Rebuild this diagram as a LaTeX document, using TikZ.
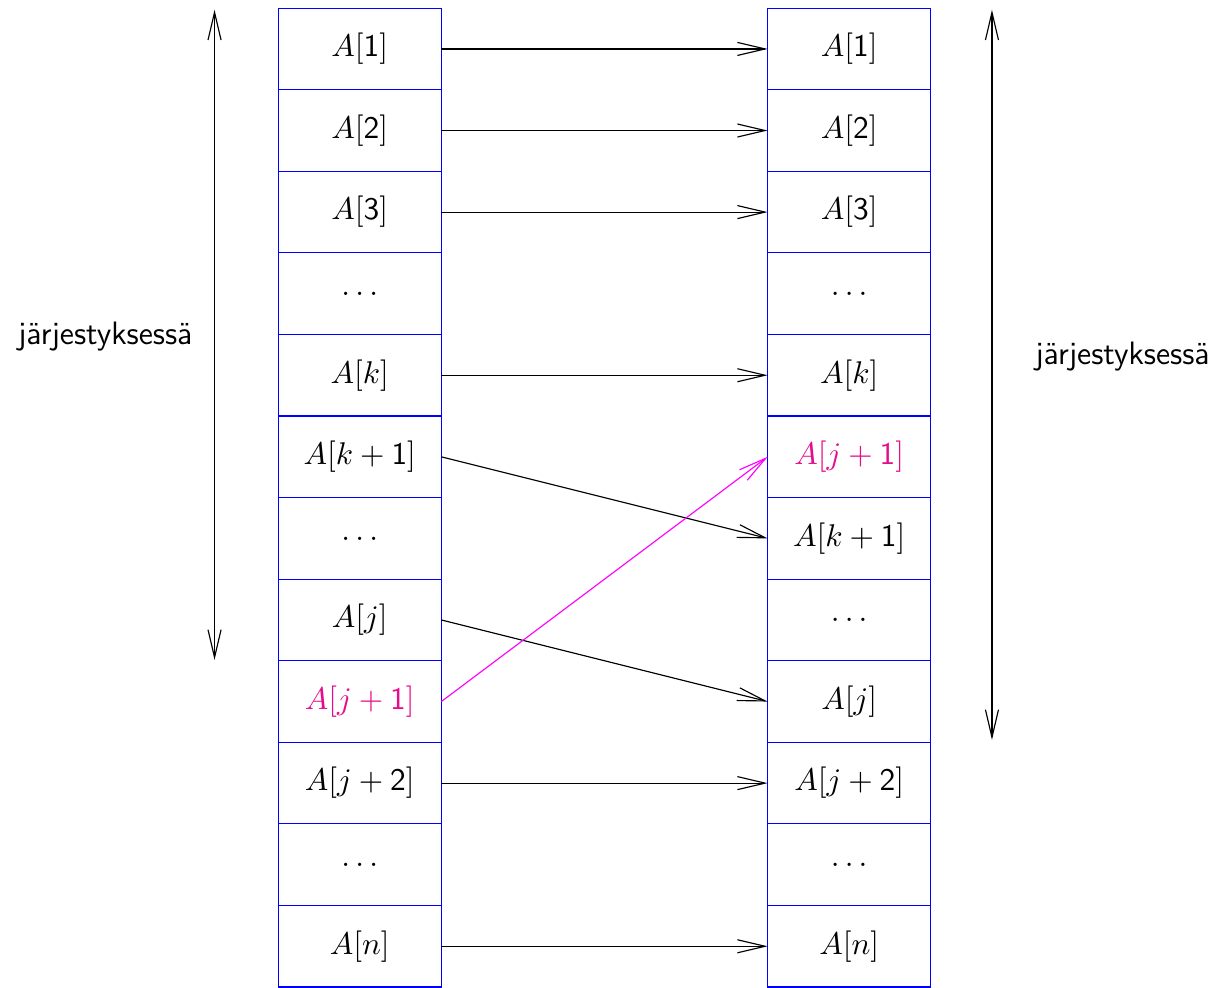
\documentclass[tikz,border=0pt,11pt]{standalone}
\usepackage{tikz}
\usetikzlibrary{arrows.meta}
\usepackage{xcolor}
\definecolor{pink}{rgb}{0.9,0.05,0.55}
\definecolor{mag}{rgb}{1,0,1}

\begin{document}
\begin{tikzpicture}[
	c/.style = {rectangle, draw=blue, inner sep=0, outer sep=0, minimum width=2cm, minimum height=1cm},
	h/.style = {rectangle, draw=blue, text=pink, inner sep=0, outer sep=0, minimum width=2cm, minimum height=1cm},
	r/.style = {-{Straight Barb[length=3.4mm, width=1.6mm]}},
	d/.style = {{Straight Barb[length=3.4mm, width=1.6mm]}-{Straight Barb[length=3.4mm, width=1.6mm]}},
	t/.style = {font=\sffamily\fontsize{11.3}{13}\selectfont}
	]
	\useasboundingbox (0, 0) rectangle (14.98, -12.1);
	
	%Nodes
	\node[c]	(l1)	at	(4.41, -0.6)	{$A[\mathsf{1}]$};
	\node[c]	(l2)	at	(4.41, -1.6)	{$A[\mathsf{2}]$};
	\node[c]	(l3)	at	(4.41, -2.6)	{$A[\mathsf{3}]$};
	\node[c]	(l4)	at	(4.41, -3.6)	{$\dots$};
	\node[c]	(l5)	at	(4.41, -4.6)	{$A[k]$};
	\node[c]	(l6)	at	(4.41, -5.6)	{$A[k+\mathsf{1}]$};
	\node[c]	(l7)	at	(4.41, -6.6)	{$\dots$};
	\node[c]	(l8)	at	(4.41, -7.6)	{$A[j]$};
	\node[h]	(l9)	at	(4.41, -8.6)	{$A[j+\mathsf{1}]$};
	\node[c]	(l10)	at	(4.41, -9.6)	{$A[j+\mathsf{2}]$};
	\node[c]	(l11)	at	(4.41, -10.6)	{$\dots$\hspace{2.5mm}};
	\node[c]	(l12)	at	(4.41, -11.6)	{$A[n]$};
	
	\node[c]	(r1)	at	(10.41, -0.6)	{$A[\mathsf{1}]$};
	\node[c]	(r2)	at	(10.41, -1.6)	{$A[\mathsf{2}]$};
	\node[c]	(r3)	at	(10.41, -2.6)	{$A[\mathsf{3}]$};
	\node[c]	(r4)	at	(10.41, -3.6)	{$\dots$};
	\node[c]	(r5)	at	(10.41, -4.6)	{$A[k]$};
	\node[h]	(r6)	at	(10.41, -5.6)	{$A[j+\mathsf{1}]$};
	\node[c]	(r7)	at	(10.41, -6.6)	{$A[k+\mathsf{1}]$};
	\node[c]	(r8)	at	(10.41, -7.6)	{$\dots$};
	\node[c]	(r9)	at	(10.41, -8.6)	{$A[j]$};
	\node[c]	(r10)	at	(10.41, -9.6)	{$A[j+\mathsf{2}]$};
	\node[c]	(r11)	at	(10.41, -10.6)	{$\dots$};
	\node[c]	(r12)	at	(10.41, -11.6)	{$A[n]$};
	
	\coordinate	(lt)	at	(2.63, -0.12);
	\coordinate	(lb)	at	(2.63, -8.09);
	\coordinate	(rt)	at	(12.16, -0.12);
	\coordinate	(rb)	at	(12.16, -9.07);
	\node[t]	(lj)	at	(1.29, -4.12)	{järjestyksessä};
	\node[t]	(rj)	at	(13.76, -4.37)	{järjestyksessä};
	
	%Lines
	\draw[d]	(lt)	--	(lb);
	\draw[d]	(rt)	--	(rb);
	
	\draw[r]	(l1.east)	--	(r1.west);
	\draw[r]	(l2.east)	--	(r2.west);
	\draw[r]	(l3.east)	--	(r3.west);
	\draw[r]	(l5.east)	--	(r5.west);
	\draw[r]	(l6.east)	--	(r7.west);
	\draw[r]	(l8.east)	--	(r9.west);
	\draw[r, mag]	(l9.east)	--	(r6.west);
	\draw[r]	(l10.east)	--	(r10.west);
	\draw[r]	(l12.east)	--	(r12.west);
	
\end{tikzpicture}
\end{document}
